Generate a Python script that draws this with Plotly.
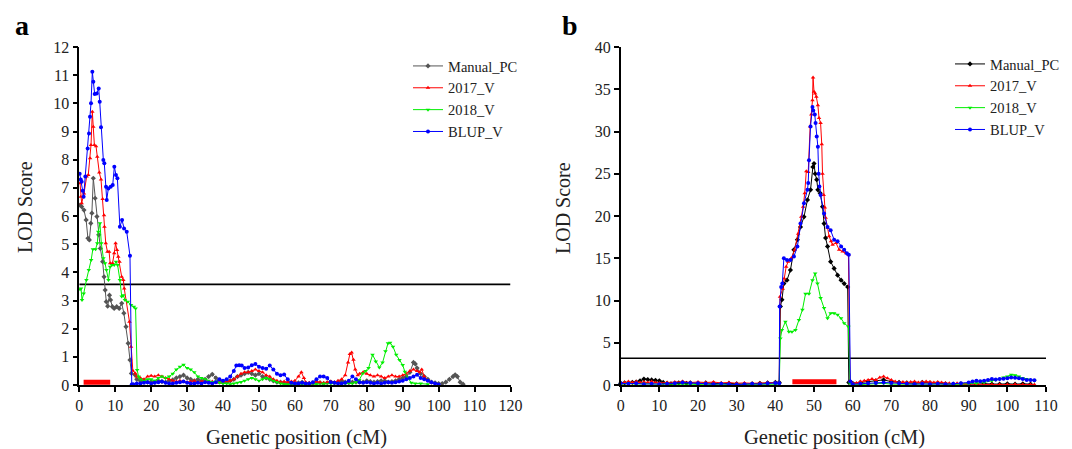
import plotly.graph_objects as go

# ---------------- Panel a data ----------------
a_pc_x = [0.2, 0.66, 1.3, 1.9, 2.4, 2.8, 3.2, 3.5, 3.9, 4.4, 4.9, 5.4, 5.85, 6.5, 6.9, 7.2, 7.5, 7.9, 8.4, 8.7, 9.2,
          9.7, 10.4, 11.1, 11.8, 12.4, 13.0, 13.6, 14.1, 14.5, 15.5,
          16, 17, 18, 19, 20, 21, 22, 23, 24, 25, 26, 27, 28, 29, 30, 31, 32, 33, 34, 35, 36, 37, 38, 39, 40,
          41, 42, 43, 44, 45, 46, 47, 48, 49, 50, 51, 52, 53, 54, 55, 56, 57, 58, 59, 60, 61, 62, 63, 64, 65,
          66, 67, 68, 69, 70, 71, 72, 73, 74, 75, 76, 77, 78, 79, 80, 81, 82, 83, 84, 85, 86, 87, 88, 89, 90,
          91, 92, 93, 93.5, 94, 95, 96, 97, 98, 99, 100, 101, 102, 103, 104, 104.6, 105.2, 106, 106.8]
a_pc_y = [6.39, 6.33, 6.21, 5.86, 5.21, 5.15, 5.74, 6.1, 7.34, 6.63, 5.98, 5.33, 4.85, 4.38, 3.84, 3.37, 2.96, 2.8,
          3.19, 3.02, 2.78, 2.72, 2.78, 2.72, 2.9, 2.55, 2.07, 1.48, 0.89, 0.41, 0.36,
          0.2, 0.15, 0.12, 0.1, 0.12, 0.1, 0.15, 0.12, 0.1, 0.15, 0.18, 0.25, 0.3, 0.35, 0.25, 0.2, 0.15, 0.2,
          0.15, 0.2, 0.3, 0.38, 0.25, 0.15, 0.1, 0.1, 0.15, 0.2, 0.3, 0.35, 0.4, 0.45, 0.4, 0.35, 0.4, 0.3,
          0.25, 0.2, 0.15, 0.1, 0.1, 0.05, 0.08, 0.05, 0.05, 0.08, 0.1, 0.05, 0.05, 0.05, 0.1, 0.08, 0.05,
          0.08, 0.1, 0.08, 0.1, 0.15, 0.1, 0.08, 0.1, 0.1, 0.1, 0.1, 0.15, 0.12, 0.1, 0.12, 0.15, 0.15, 0.1,
          0.12, 0.15, 0.2, 0.25, 0.3, 0.45, 0.8, 0.75, 0.6, 0.4, 0.3, 0.2, 0.1, 0.08, 0.05, 0.05, 0.1, 0.2,
          0.3, 0.36, 0.3, 0.1, 0.03]

a_17_x = [0.2, 0.4, 0.66, 1.3, 2.05, 2.5, 3.0, 3.26, 3.63, 3.9, 4.2, 4.65, 5.0, 5.57, 6.04, 6.5, 6.88, 7.0, 7.36,
          7.83, 8.3, 8.58, 9.25, 9.72, 10.1, 10.5, 10.85, 11.2, 11.8, 12.26, 12.5, 13.96, 14.4, 14.9, 15.6,
          16, 17, 18, 19, 20, 21, 22, 23, 24, 25, 26, 27, 28, 29, 30, 31, 32, 33, 34, 35, 36, 37, 38, 39, 40,
          41, 42, 43, 44, 45, 46, 47, 48, 49, 50, 51, 52, 53, 54, 55, 56, 57, 58, 59, 60, 61, 61.8, 62.5, 63,
          64, 65, 66, 67, 68, 69, 70, 71, 72, 73, 74, 74.8, 75.3, 75.8, 76.3, 76.8, 77.5, 78, 79, 80, 81, 82,
          83, 84, 85, 86, 87, 88, 89, 90, 91, 92, 93, 94, 94.7, 95.3, 96, 97, 98]
a_17_y = [7.16, 6.68, 6.45, 6.8, 7.4, 7.46, 8.05, 8.52, 9.7, 9.17, 8.52, 8.48, 8.1, 7.54, 7.3, 6.6, 6.03, 5.62,
          5.03, 4.73, 4.73, 4.32, 4.32, 4.68, 5.03, 4.79, 4.55, 4.38, 3.84, 3.73, 3.43, 2.25, 1.36, 0.51, 0.41,
          0.3, 0.25, 0.2, 0.3, 0.33, 0.3, 0.35, 0.3, 0.25, 0.2, 0.15, 0.12, 0.15, 0.12, 0.1, 0.12, 0.15, 0.1,
          0.12, 0.15, 0.1, 0.12, 0.1, 0.08, 0.1, 0.12, 0.15, 0.2, 0.3, 0.4, 0.45, 0.45, 0.5, 0.55, 0.5, 0.45,
          0.35, 0.3, 0.2, 0.15, 0.1, 0.12, 0.1, 0.12, 0.15, 0.3, 0.45, 0.25, 0.1, 0.08, 0.1, 0.12, 0.1, 0.08,
          0.1, 0.12, 0.1, 0.15, 0.2, 0.35, 0.8, 1.1, 1.15, 0.9, 0.55, 0.35, 0.4, 0.45, 0.4, 0.35, 0.3, 0.35,
          0.3, 0.25, 0.3, 0.35, 0.3, 0.3, 0.35, 0.4, 0.5, 0.55, 0.5, 0.45, 0.55, 0.3, 0.15, 0.08]

a_18_x = [0.2, 0.47, 0.75, 1.23, 1.98, 2.64, 3.3, 3.77, 4.53, 5.0, 5.28, 5.75, 6.13, 6.7, 7.17, 7.55, 8.11, 8.58,
          9.06, 9.72, 10.2, 10.66, 11.3, 11.8, 12.26, 12.7, 13.5, 14.4, 15.2, 15.66, 16.1, 16.5,
          17, 18, 19, 20, 21, 22, 23, 24, 25, 26, 27, 28, 29, 30, 31, 32, 33, 34, 35, 36, 37, 38, 39, 40, 41,
          42, 43, 44, 45, 46, 47, 48, 49, 50, 51, 52, 53, 54, 55, 56, 57, 58, 60, 62, 64, 66, 68, 70, 72, 74,
          76, 77, 77.9, 78.9, 79.7, 80.5, 81.6, 82.5, 83.5, 84.4, 85.2, 85.9, 86.5, 87.3, 88.2, 89.1, 90,
          90.6, 91.5, 92.4, 93.5, 95, 97]
a_18_y = [3.4, 3.43, 3.02, 3.25, 3.73, 4.08, 4.44, 4.82, 4.82, 5.03, 5.44, 5.74, 5.03, 4.5, 4.32, 4.08, 3.73, 4.2,
          4.26, 4.26, 4.38, 4.26, 3.73, 3.14, 3.19, 3.02, 2.96, 2.84, 2.78, 2.72, 0.53, 0.3,
          0.2, 0.15, 0.2, 0.2, 0.15, 0.25, 0.3, 0.25, 0.3, 0.4, 0.55, 0.65, 0.72, 0.6, 0.55, 0.45, 0.3, 0.25,
          0.2, 0.15, 0.1, 0.12, 0.08, 0.05, 0.05, 0.03, 0.05, 0.08, 0.1, 0.15, 0.2, 0.25, 0.2, 0.15, 0.2,
          0.25, 0.2, 0.15, 0.1, 0.05, 0.03, 0.02, 0.02, 0.03, 0.05, 0.03, 0.05, 0.05, 0.05, 0.05, 0.05, 0.1,
          0.18, 0.41, 0.5, 0.6, 1.07, 0.83, 0.62, 0.8, 1.2, 1.48, 1.5, 1.36, 1.07, 0.89, 0.71, 0.47, 0.24,
          0.08, 0.05, 0.05, 0.03]

a_bl_x = [0.1, 0.4, 0.66, 0.94, 1.2, 1.68, 2.33, 2.7, 2.98, 3.26, 3.63, 3.9, 4.28, 4.84, 5.4, 5.68, 6.04, 6.69,
          6.96, 7.44, 7.63, 8.08, 8.74, 9.3, 9.75, 10.2, 10.6, 11.3, 11.9, 12.45, 13.2, 14.1, 14.6,
          15, 16, 17, 18, 19, 20, 21, 22, 23, 24, 25, 26, 27, 28, 29, 30, 31, 32, 33, 34, 35, 36, 37, 38, 39,
          40, 41, 42, 43, 43.7, 44.5, 45.2, 46, 47, 48, 49, 50, 51, 52, 53, 54, 55, 56, 57, 58, 59, 60, 61, 62,
          63, 64, 65, 66, 67, 68, 69, 70, 71, 72, 73, 74, 75, 76, 77, 78, 79, 80, 81, 82, 83, 84, 85, 86, 87,
          88, 89, 90, 91, 92, 93, 94, 95, 96, 97, 98, 99, 100]
a_bl_y = [7.5, 7.3, 7.22, 6.9, 6.68, 7.4, 8.4, 8.93, 9.52, 10.0, 11.12, 10.77, 10.33, 10.35, 10.53, 10.06, 9.15,
          7.99, 7.87, 7.04, 6.57, 6.98, 7.04, 7.1, 7.75, 7.46, 7.34, 5.62, 5.86, 5.56, 5.44, 4.59, 0.02,
          0.03, 0.05, 0.05, 0.08, 0.1, 0.05, 0.08, 0.1, 0.12, 0.08, 0.05, 0.05, 0.08, 0.1, 0.12, 0.08, 0.05,
          0.05, 0.08, 0.05, 0.1, 0.08, 0.05, 0.1, 0.2, 0.15, 0.2, 0.3, 0.5, 0.69, 0.7, 0.69, 0.6, 0.62, 0.7,
          0.75, 0.65, 0.6, 0.58, 0.69, 0.55, 0.4, 0.35, 0.37, 0.2, 0.08, 0.05, 0.05, 0.08, 0.05, 0.05, 0.1,
          0.2, 0.3, 0.3, 0.25, 0.1, 0.08, 0.05, 0.05, 0.08, 0.15, 0.3, 0.2, 0.1, 0.08, 0.1, 0.08, 0.05, 0.08,
          0.05, 0.08, 0.1, 0.08, 0.1, 0.12, 0.15, 0.2, 0.25, 0.3, 0.36, 0.25, 0.2, 0.15, 0.1, 0.05, 0.02]

a_qtl = [1.2, 8.6]
a_qtl_lod = 0.1
a_threshold = 3.57

# ---------------- Panel b data ----------------
b_pc_x = [0, 1, 2, 3, 4, 5, 6, 7, 8, 9, 10, 11, 12, 13, 14, 15, 16, 17, 18, 20, 22, 24, 26, 28, 30, 32, 34, 36,
          38, 40, 41.0, 41.3, 41.7, 42.2, 43.0, 43.9, 44.8, 45.7, 46.5, 47.4, 48.3, 49.1, 49.7, 50.0, 50.3,
          50.7, 51.0, 51.6, 52.2, 52.6, 53.0, 53.5, 54.3, 55.2, 56.1, 57.0, 57.8, 58.7, 59.0, 60, 62, 64, 66,
          68, 70, 72, 74, 76, 78, 80, 82, 84, 86, 88, 90, 92, 94, 96, 98, 100, 102, 104, 106]
b_pc_y = [0.2, 0.25, 0.2, 0.3, 0.35, 0.5, 0.7, 0.65, 0.6, 0.55, 0.5, 0.3, 0.2, 0.15, 0.2, 0.25, 0.3, 0.2, 0.25,
          0.2, 0.25, 0.2, 0.15, 0.2, 0.15, 0.1, 0.15, 0.2, 0.25, 0.3, 0.3, 9.3, 10.1, 12.0, 12.4, 13.6, 16.0,
          17.2, 18.7, 19.9, 21.9, 23.1, 25.8, 26.2, 25.0, 24.3, 23.1, 22.7, 21.1, 19.1, 17.4, 16.4, 14.6, 13.8,
          13.0, 12.4, 12.0, 11.6, 0.3, 0.2, 0.3, 0.4, 0.5, 0.6, 0.4, 0.3, 0.25, 0.2, 0.3, 0.25, 0.2, 0.15,
          0.1, 0.15, 0.1, 0.1, 0.15, 0.1, 0.1, 0.15, 0.1, 0.15, 0.1]

b_17_x = [0, 1, 2, 3, 4, 5, 6, 7, 8, 9, 10, 12, 14, 16, 18, 20, 22, 24, 26, 28, 30, 32, 34, 36, 38, 40, 41.0,
          41.2, 41.9, 42.3, 42.8, 43.3, 44.1, 45.0, 45.9, 46.7, 47.2, 47.6, 48.0, 48.5, 49.0, 49.3, 49.6, 49.75,
          50.0, 50.3, 50.6, 51.0, 51.3, 51.7, 52.0, 52.2, 52.5, 52.8, 53.0, 53.5, 53.9, 54.4, 54.8, 55.7,
          56.5, 57.4, 58.3, 58.9, 59.3, 60, 61, 62, 63, 64, 65, 66, 67, 68, 69, 70, 71, 72, 73, 74, 75, 76,
          77, 78, 79, 80, 81, 82, 83, 84, 85, 86, 87, 88, 89, 90, 92, 94, 96, 98, 100, 102, 104, 106, 107]
b_17_y = [0.2, 0.3, 0.4, 0.3, 0.4, 0.3, 0.35, 0.3, 0.4, 0.3, 0.25, 0.3, 0.35, 0.4, 0.3, 0.35, 0.3, 0.35, 0.25,
          0.3, 0.2, 0.25, 0.2, 0.25, 0.3, 0.3, 0.3, 10.45, 11.4, 12.6, 14.0, 14.6, 15.0, 16.0, 17.9, 19.9,
          21.1, 22.7, 25.3, 25.2, 30.6, 32.0, 33.7, 36.4, 34.7, 34.5, 34.1, 33.1, 31.6, 31.0, 28.5, 25.0,
          22.5, 21.0, 19.8, 18.6, 17.6, 17.0, 16.6, 16.8, 16.0, 15.8, 15.6, 15.4, 0.5, 0.2, 0.25, 0.4, 0.5,
          0.6, 0.7, 0.6, 0.9, 1.0, 0.8, 0.6, 0.4, 0.3, 0.35, 0.3, 0.35, 0.4, 0.3, 0.35, 0.4, 0.35, 0.3, 0.35,
          0.3, 0.25, 0.2, 0.15, 0.2, 0.15, 0.1, 0.1, 0.1, 0.05, 0.05, 0.05, 0.05, 0.1, 0.05, 0.05, 0.05]

b_18_x = [0, 2, 4, 6, 8, 10, 12, 14, 16, 18, 20, 22, 24, 26, 28, 30, 32, 34, 36, 38, 40, 41.0, 41.3, 41.7, 42.6,
          43.5, 44.3, 45.2, 46.1, 47.0, 47.8, 48.7, 49.6, 50.3, 50.9, 51.7, 52.6, 53.5, 54.3, 55.2, 56.1,
          57.0, 57.8, 58.9, 59.3, 60, 62, 64, 66, 68, 70, 72, 74, 76, 78, 80, 82, 84, 86, 88, 90, 92, 94, 96,
          97, 98, 99, 100, 101, 102, 103, 104, 105, 106, 107]
b_18_y = [0.1, 0.2, 0.1, 0.15, 0.1, 0.1, 0.15, 0.1, 0.15, 0.1, 0.05, 0.1, 0.05, 0.1, 0.05, 0.05, 0.1, 0.05, 0.1,
          0.1, 0.05, 0.1, 5.5, 6.5, 7.5, 6.3, 6.3, 6.5, 7.7, 8.9, 10.8, 10.8, 12.4, 13.2, 12.0, 10.3, 9.1, 7.9,
          8.5, 8.5, 8.3, 7.9, 7.3, 6.9, 0.2, 0.05, 0.05, 0.1, 0.15, 0.2, 0.1, 0.1, 0.05, 0.05, 0.1, 0.05, 0.1,
          0.05, 0.1, 0.1, 0.15, 0.2, 0.3, 0.5, 0.6, 0.7, 0.9, 1.0, 1.2, 1.15, 1.0, 0.8, 0.7, 0.6, 0.5]

b_bl_x = [0, 2, 4, 6, 8, 10, 12, 14, 16, 18, 20, 22, 24, 26, 28, 30, 32, 34, 36, 38, 40, 41.0, 41.1, 41.5, 41.8,
          42.2, 43.0, 43.9, 44.8, 45.7, 46.5, 47.4, 48.3, 48.5, 48.7, 49.1, 49.6, 49.8, 50.2, 50.4, 50.7,
          51.0, 51.2, 51.4, 51.7, 52.6, 53.5, 54.3, 55.2, 56.1, 57.0, 57.8, 58.5, 59.0, 59.4, 60, 62, 64, 66,
          68, 70, 72, 74, 76, 78, 80, 82, 84, 86, 88, 90, 91, 92, 93, 94, 95, 96, 97, 98, 99, 100, 101, 102,
          103, 104, 105, 106, 107]
b_bl_y = [0.2, 0.15, 0.2, 0.1, 0.15, 0.1, 0.15, 0.2, 0.3, 0.25, 0.2, 0.15, 0.1, 0.15, 0.1, 0.05, 0.1, 0.15, 0.1,
          0.2, 0.25, 0.2, 9.3, 11.6, 12.0, 15.0, 14.8, 14.8, 15.2, 16.4, 19.1, 21.5, 23.1, 23.9, 26.6, 30.6,
          32.9, 32.5, 32.0, 31.0, 29.4, 28.2, 25.0, 23.5, 22.5, 20.3, 18.7, 18.3, 17.2, 17.0, 16.4, 16.0,
          15.6, 15.4, 0.4, 0.1, 0.15, 0.2, 0.25, 0.3, 0.25, 0.2, 0.15, 0.1, 0.15, 0.1, 0.15, 0.1, 0.15, 0.2,
          0.3, 0.4, 0.5, 0.45, 0.5, 0.6, 0.7, 0.65, 0.7, 0.75, 0.8, 0.9, 0.85, 0.8, 0.7, 0.6, 0.6, 0.55]

b_qtl = [44.4, 55.8]
b_qtl_lod = 0.38
b_threshold = 3.16

names = ["Manual_PC", "2017_V", "2018_V", "BLUP_V"]
symbols = ["diamond", "triangle-up", "triangle-down", "circle"]
colors_a = ["#555555", "#ff0000", "#00ee00", "#0000ff"]
colors_b = ["#000000", "#ff0000", "#00ee00", "#0000ff"]

FONT = "Liberation Serif"

# the page body has an 8 px margin: lay the figure out in page pixels
OFF = 8
W, H = 1072 - OFF, 449 - OFF


def fx(px):
    return (px - OFF) / W


def fy(py):
    return 1 - (py - OFF) / H


fig = go.Figure()

series_a = [(a_pc_x, a_pc_y), (a_17_x, a_17_y), (a_18_x, a_18_y), (a_bl_x, a_bl_y)]
series_b = [(b_pc_x, b_pc_y), (b_17_x, b_17_y), (b_18_x, b_18_y), (b_bl_x, b_bl_y)]

fig.add_trace(go.Scatter(x=[0, 120], y=[a_threshold, a_threshold], mode="lines",
                         line=dict(color="black", width=1.8), showlegend=False, xaxis="x", yaxis="y",
                         hoverinfo="skip"))
fig.add_trace(go.Scatter(x=a_qtl, y=[a_qtl_lod, a_qtl_lod], mode="lines",
                         line=dict(color="#ff0000", width=5), showlegend=False, xaxis="x", yaxis="y",
                         cliponaxis=False))
for (xs, ys), n, s, c in zip(series_a, names, symbols, colors_a):
    fig.add_trace(go.Scatter(x=xs, y=ys, name=n, mode="lines+markers",
                             line=dict(color=c, width=1),
                             marker=dict(symbol=s, size=4, color=c),
                             xaxis="x", yaxis="y", legend="legend", cliponaxis=False))

fig.add_trace(go.Scatter(x=[0, 110], y=[b_threshold, b_threshold], mode="lines",
                         line=dict(color="black", width=1.5), showlegend=False, xaxis="x2", yaxis="y2",
                         hoverinfo="skip"))
fig.add_trace(go.Scatter(x=b_qtl, y=[b_qtl_lod, b_qtl_lod], mode="lines",
                         line=dict(color="#ff0000", width=5), showlegend=False, xaxis="x2", yaxis="y2",
                         cliponaxis=False))
for (xs, ys), n, s, c in zip(series_b, names, symbols, colors_b):
    fig.add_trace(go.Scatter(x=xs, y=ys, name=n, mode="lines+markers",
                             line=dict(color=c, width=1),
                             marker=dict(symbol=s, size=4, color=c),
                             xaxis="x2", yaxis="y2", legend="legend2", cliponaxis=False))

ydom = [fy(385), fy(47)]
axis_common = dict(showline=True, linecolor="black", linewidth=1.5, ticks="outside", ticklen=5,
                   tickwidth=1.5, tickcolor="black", showgrid=False, zeroline=False, automargin=False,
                   tickfont=dict(family=FONT, size=16, color="#222222"))


def label(text, px, py, size, angle=0, color="#222222"):
    return dict(text=text, x=fx(px), y=fy(py), xref="paper", yref="paper", showarrow=False,
                xanchor="center", yanchor="middle", textangle=angle,
                font=dict(family=FONT, size=size, color=color))


fig.update_layout(
    template="none",
    width=W, height=H, autosize=False,
    margin=dict(l=0, r=0, t=0, b=0, pad=0),
    paper_bgcolor="white", plot_bgcolor="white",
    font=dict(family=FONT, color="black"),
    xaxis=dict(domain=[fx(79.3), fx(510.5)], range=[0, 120], dtick=10, anchor="y", **axis_common),
    yaxis=dict(domain=ydom, range=[0, 12], dtick=1, anchor="x", **axis_common),
    xaxis2=dict(domain=[fx(620.7), fx(1046)], range=[0, 110], dtick=10, anchor="y2", **axis_common),
    yaxis2=dict(domain=ydom, range=[0, 40], dtick=5, anchor="x2", **axis_common),
    legend=dict(x=fx(408), y=fy(50), xanchor="left", yanchor="top", bgcolor="rgba(0,0,0,0)",
                borderwidth=0, font=dict(family=FONT, size=14.5, color="#222222"), tracegroupgap=0,
                itemwidth=30),
    legend2=dict(x=fx(950), y=fy(48), xanchor="left", yanchor="top", bgcolor="rgba(0,0,0,0)",
                 borderwidth=0, font=dict(family=FONT, size=14.5, color="#222222"), tracegroupgap=0,
                 itemwidth=30),
    showlegend=True,
    annotations=[
        label("<b>a</b>", 22, 25, 28, color="black"),
        label("<b>b</b>", 570, 25, 28, color="black"),
        label("LOD Score", 25, 207, 20, angle=-90),
        label("LOD Score", 563, 208, 20, angle=-90),
        label("Genetic position (cM)", 296, 437, 20.5),
        label("Genetic position (cM)", 834, 437, 20.5),
    ],
)

fig.write_html("out.html")
